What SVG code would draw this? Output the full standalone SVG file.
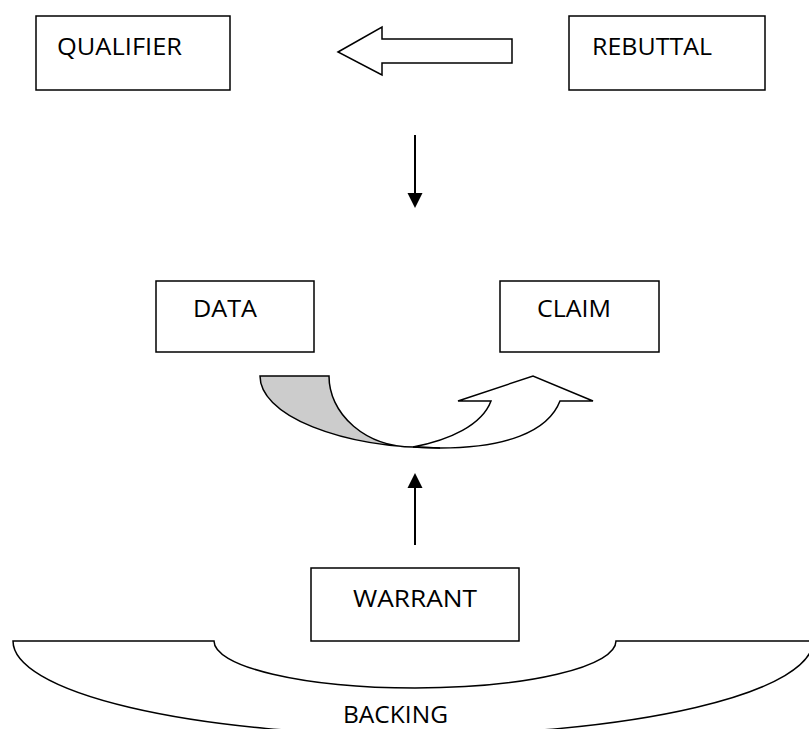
<svg xmlns="http://www.w3.org/2000/svg" width="809" height="729" viewBox="0 0 809 729">
<style>
.box{fill:#fff;stroke:#000;stroke-width:1.5}
.lbl{font-family:"Open Sans","Noto Sans","Liberation Sans",sans-serif;font-size:24.5px;fill:#000}
.shape{fill:#fff;stroke:#000;stroke-width:1.5;stroke-linejoin:miter}
.line{stroke:#000;stroke-width:2;fill:none}
.head{fill:#000;stroke:none}
</style>
<rect width="809" height="729" fill="#fff"/>
<g id="qualifier">
<rect class="box" x="36" y="16" width="194" height="74"/>
<text class="lbl" x="57" y="55" textLength="125" lengthAdjust="spacingAndGlyphs">QUALIFIER</text>
</g>
<g id="rebuttal">
<rect class="box" x="569" y="16" width="196" height="74"/>
<text class="lbl" x="592" y="55" textLength="120" lengthAdjust="spacingAndGlyphs">REBUTTAL</text>
</g>
<g id="data">
<rect class="box" x="156" y="281" width="158" height="71"/>
<text class="lbl" x="193" y="317" textLength="64" lengthAdjust="spacingAndGlyphs">DATA</text>
</g>
<g id="claim">
<rect class="box" x="500" y="281" width="159" height="71"/>
<text class="lbl" x="537" y="317" textLength="74" lengthAdjust="spacingAndGlyphs">CLAIM</text>
</g>
<g id="warrant">
<rect class="box" x="311" y="568" width="208" height="73"/>
<text class="lbl" x="353" y="607" textLength="124" lengthAdjust="spacingAndGlyphs">WARRANT</text>
</g>
<g id="backing">
<path class="shape" d="M13,641 L214,641 A201 47 0 0 0 616,641 L813,641 A400 94 0 0 1 13,641 Z"/>
<text class="lbl" x="343" y="723" textLength="105" lengthAdjust="spacingAndGlyphs">BACKING</text>
</g>
<g id="connectors">
<path class="shape" d="M338,52 L382,27 L382,39 L512,39 L512,63 L382,63 L382,75 Z"/>
<line class="line" x1="415" y1="135" x2="415" y2="194"/>
<polygon class="head" points="407.5,193 422.5,193 415,208"/>
<line class="line" x1="415" y1="545" x2="415" y2="487"/>
<polygon class="head" points="407.5,488 422.5,488 415,473"/>
<g id="curved-arrow">
<path class="shape" d="M413,447 C450,440 482,425 491,401 L458,401 L533,376 L593,401 L560,401 C548,432 505,448 440,448 Z"/>
<path class="shape" style="fill:#cccccc" d="M260,376 L329,376 A84 71 0 0 0 413,447 L440,448 A180 72 0 0 1 260,376 Z"/>
</g>
</g>
</svg>
